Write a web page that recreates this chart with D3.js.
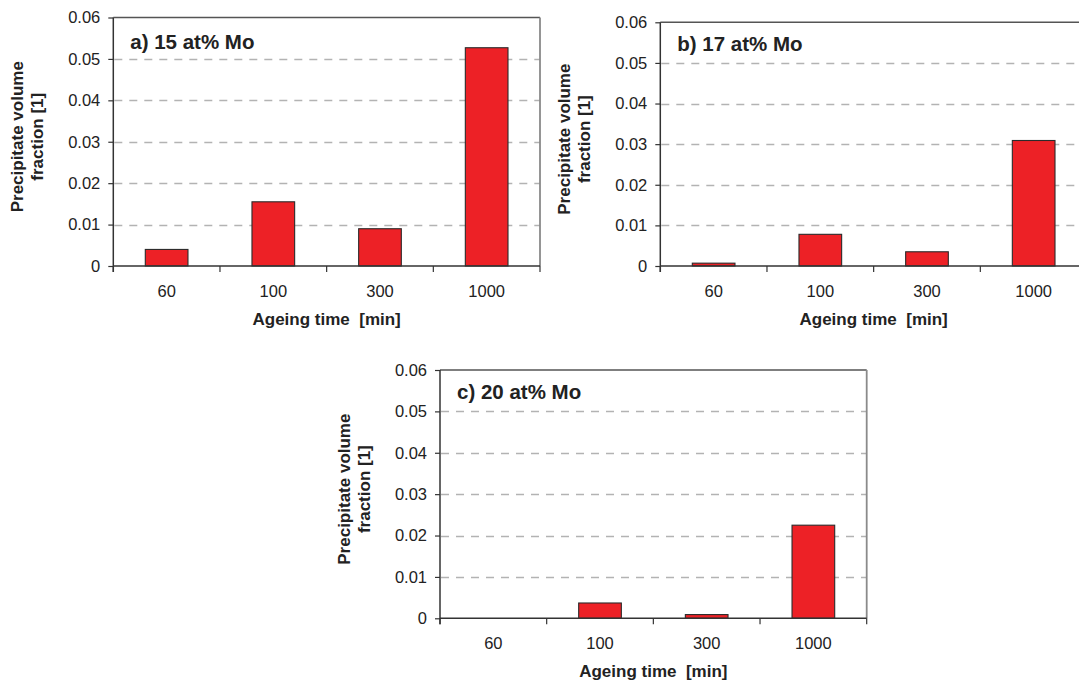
<!DOCTYPE html>
<html>
<head>
<meta charset="utf-8">
<script src="https://cdn.jsdelivr.net/npm/d3@7"></script>
<style>
  html, body { margin: 0; padding: 0; background: #fff; }
  svg { display: block; font-family: "Liberation Sans", Arial, Helvetica, sans-serif; }
</style>
</head>
<body>
<svg id="chart" width="1079" height="682"></svg>
<script>
// ---- data ----
const categories = ["60", "100", "300", "1000"];
const panelTitles = ["a) 15 at% Mo", "b) 17 at% Mo", "c) 20 at% Mo"];
const valuesA = [0.0040, 0.0155, 0.0090, 0.0527];
const valuesB = [0.0007, 0.0078, 0.0035, 0.0309];
const valuesC = [0.0000, 0.0037, 0.0009, 0.0225];
const yTicks = [0, 0.01, 0.02, 0.03, 0.04, 0.05, 0.06];
const yLabelLines = ["Precipitate volume", "fraction [1]"];
const xTitle = "Ageing time  [min]";

// ---- layout (positions only) ----
const panels = [
  { values: valuesA, title: panelTitles[0], x0: 113.3, x1: 540, yTop: 17.5, y0: 266, titleDy: 31, rightBorder: true },
  { values: valuesB, title: panelTitles[1], x0: 660.3, x1: 1087, yTop: 22.3, y0: 266, titleDy: 28.5, rightBorder: true },
  { values: valuesC, title: panelTitles[2], x0: 440, x1: 866.7, yTop: 370, y0: 618.3, titleDy: 28.5, rightBorder: true }
];

const svg = d3.select("#chart");
const fmt = d => d === 0 ? "0" : d.toFixed(2);

panels.forEach(p => {
  const g = svg.append("g");
  const x = d3.scaleBand().domain(categories).range([p.x0, p.x1]).paddingInner(0.6).paddingOuter(0.3);
  const y = d3.scaleLinear().domain([0, 0.06]).range([p.y0, p.yTop]);
  const step = x.step();

  // gridlines (dashed), excluding 0 and top
  g.selectAll("line.grid").data(yTicks.filter(t => t > 0 && t < 0.06)).enter()
    .append("line")
    .attr("x1", p.x0 + 1).attr("x2", p.x1)
    .attr("y1", d => Math.round(y(d)) + 0.5).attr("y2", d => Math.round(y(d)) + 0.5)
    .attr("stroke", "#b3b3b3").attr("stroke-width", 1.3)
    .attr("stroke-dasharray", "8,7");

  // top border
  g.append("line")
    .attr("x1", p.x0).attr("x2", p.x1)
    .attr("y1", y(0.06)).attr("y2", y(0.06))
    .attr("stroke", "#555").attr("stroke-width", 1.6);
  // right border
  if (p.rightBorder) {
    g.append("line")
      .attr("x1", p.x1).attr("x2", p.x1)
      .attr("y1", y(0.06)).attr("y2", y(0))
      .attr("stroke", "#8a8a8a").attr("stroke-width", 1.8);
  }

  // bars
  g.selectAll("rect.bar").data(p.values.map((v, i) => ({ c: categories[i], v }))).enter()
    .append("rect")
    .attr("x", d => x(d.c))
    .attr("width", x.bandwidth())
    .attr("y", d => y(d.v))
    .attr("height", d => y(0) - y(d.v))
    .attr("fill", "#ed2126")
    .attr("stroke", d => d.v > 0 ? "#2b2b2b" : "none")
    .attr("stroke-width", 1.1);

  // y axis
  const yAxis = d3.axisLeft(y).tickValues(yTicks).tickFormat(fmt).tickSize(5).tickPadding(8);
  const ya = g.append("g").attr("transform", `translate(${p.x0},0)`).call(yAxis);
  ya.select(".domain").attr("stroke", "#333").attr("stroke-width", 1.5).attr("d", `M-0,${y(0) + 6}V${y(0.06)}`);
  ya.selectAll(".tick line").attr("stroke", "#333").attr("stroke-width", 1.2);
  ya.selectAll(".tick text").attr("font-size", 16.5).attr("fill", "#222")
    .attr("font-family", '"Liberation Sans", Arial, sans-serif');

  // x axis line + ticks at band boundaries
  g.append("line")
    .attr("x1", p.x0).attr("x2", p.x1)
    .attr("y1", y(0)).attr("y2", y(0))
    .attr("stroke", "#333").attr("stroke-width", 1.6);
  const bounds = d3.range(categories.length + 1).map(i => p.x0 + i * step);
  g.selectAll("line.xtick").data(bounds).enter()
    .append("line")
    .attr("x1", d => d).attr("x2", d => d)
    .attr("y1", y(0)).attr("y2", y(0) + 6)
    .attr("stroke", "#333").attr("stroke-width", 1.2);
  g.selectAll("text.xlab").data(categories).enter()
    .append("text")
    .attr("x", d => x(d) + x.bandwidth() / 2)
    .attr("y", y(0) + 31)
    .attr("text-anchor", "middle")
    .attr("font-size", 16.5).attr("fill", "#222")
    .text(d => d);

  // x title
  g.append("text")
    .attr("x", (p.x0 + p.x1) / 2)
    .attr("y", y(0) + 58.5)
    .attr("text-anchor", "middle")
    .attr("font-size", 17).attr("font-weight", "bold").attr("fill", "#222")
    .style("white-space", "pre")
    .text(xTitle);

  // y title (two lines, rotated)
  const cy = (p.yTop + p.y0) / 2 - 5;
  yLabelLines.forEach((line, i) => {
    g.append("text")
      .attr("transform", `translate(${p.x0 - 90 + i * 20},${cy}) rotate(-90)`)
      .attr("text-anchor", "middle")
      .attr("font-size", 17).attr("font-weight", "bold").attr("fill", "#222")
      .text(line);
  });

  // panel title
  g.append("text")
    .attr("x", p.x0 + 17)
    .attr("y", p.yTop + p.titleDy)
    .attr("font-size", 20.5).attr("font-weight", "bold").attr("fill", "#222")
    .text(p.title);
});
</script>
</body>
</html>
